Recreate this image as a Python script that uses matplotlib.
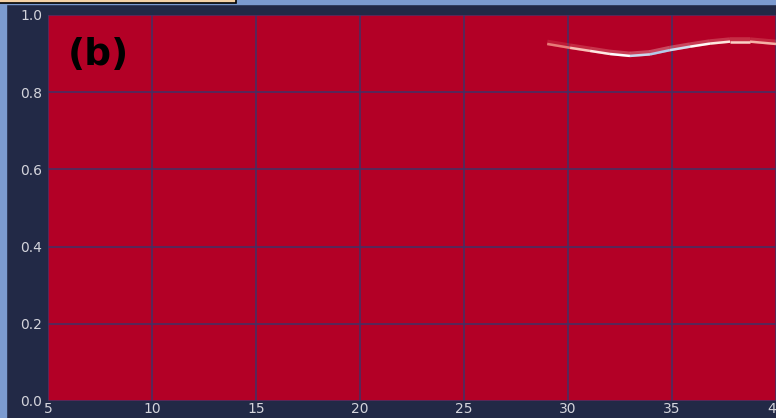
import numpy as np
import matplotlib
matplotlib.use("Agg")
import matplotlib.pyplot as plt
from matplotlib.collections import LineCollection
from matplotlib.colors import LinearSegmentedColormap
from matplotlib.patches import Rectangle

# curve
curve_x = [29.0, 30.1, 31.06, 32.02, 32.98, 33.94, 34.9, 35.87, 36.83, 37.79, 38.75, 40.0, 41.0]
curve_y = [0.925, 0.915, 0.907, 0.899, 0.894, 0.898, 0.909, 0.918, 0.926, 0.931, 0.931, 0.925, 0.922]
curve_level = [0.1, 0.3, 0.5, 0.65, 0.85, 1.0, 1.0, 0.8, 0.6, 0.5, 0.4, 0.3, 0.25]

x_ticks = [5, 10, 15, 20, 25, 30, 35, 40]
y_ticks = [0.0, 0.2, 0.4, 0.6, 0.8, 1.0]
panel_label = "(b)"

navy = "#222946"
bg_red = "#b30026"
grid_col = "#3f3266"

fig = plt.figure(figsize=(7.76, 4.18), dpi=100)
fig.patch.set_facecolor(navy)

# strips / box from the surrounding layout
fig.patches.append(Rectangle((0, 0), 6 / 776, 1, transform=fig.transFigure,
                             color="#7c9bd0", zorder=0))
fig.patches.append(Rectangle((0, 1 - 4 / 418), 1, 4 / 418, transform=fig.transFigure,
                             color="#7c9bd0", zorder=0))
fig.patches.append(Rectangle((-0.01, 1 - 3 / 418), 236 / 776 + 0.01, 0.02,
                             transform=fig.transFigure, facecolor="#f6d2a6",
                             edgecolor="black", linewidth=1.2, zorder=1))

ax = fig.add_axes([48 / 776, 17 / 418, 36 * 20.8 / 776, 386 / 418])
ax.set_facecolor(bg_red)
ax.set_xlim(5, 41)
ax.set_ylim(0, 1)
ax.set_xticks(x_ticks)
ax.set_yticks(y_ticks)
ax.set_yticklabels([f"{v:.1f}" for v in y_ticks])
ax.tick_params(colors="#d4d4dc", labelsize=10, length=0)
ax.tick_params(axis="x", pad=1)
ax.tick_params(axis="y", pad=4)
for s in ax.spines.values():
    s.set_visible(False)
ax.grid(True, color=grid_col, linewidth=1.1)
ax.set_axisbelow(False)

cmap = LinearSegmentedColormap.from_list(
    "glow", ["#c82038", "#f09088", "#fde0d6", "#ffffff", "#b4c8e8"])

pts = np.array([curve_x, curve_y]).T.reshape(-1, 1, 2)
segs = np.concatenate([pts[:-1], pts[1:]], axis=1)
lev = np.array(curve_level)
lev_seg = (lev[:-1] + lev[1:]) / 2

# soft glow slightly above the curve, then the bright core
for lw, alpha, scale, dy in [(4, 0.3, 0.6, 0.004), (1.8, 1.0, 1.0, 0.0)]:
    lc = LineCollection(segs + np.array([0, dy]), cmap=cmap, norm=plt.Normalize(0, 1),
                        linewidths=lw, alpha=alpha, capstyle="butt",
                        joinstyle="round", zorder=3)
    lc.set_array(lev_seg * scale)
    ax.add_collection(lc)

ax.text(5.96, 0.897, panel_label, fontsize=27, fontweight="bold", color="black",
        va="center", ha="left", zorder=4)

fig.savefig("out.png", dpi=100, facecolor=navy)
